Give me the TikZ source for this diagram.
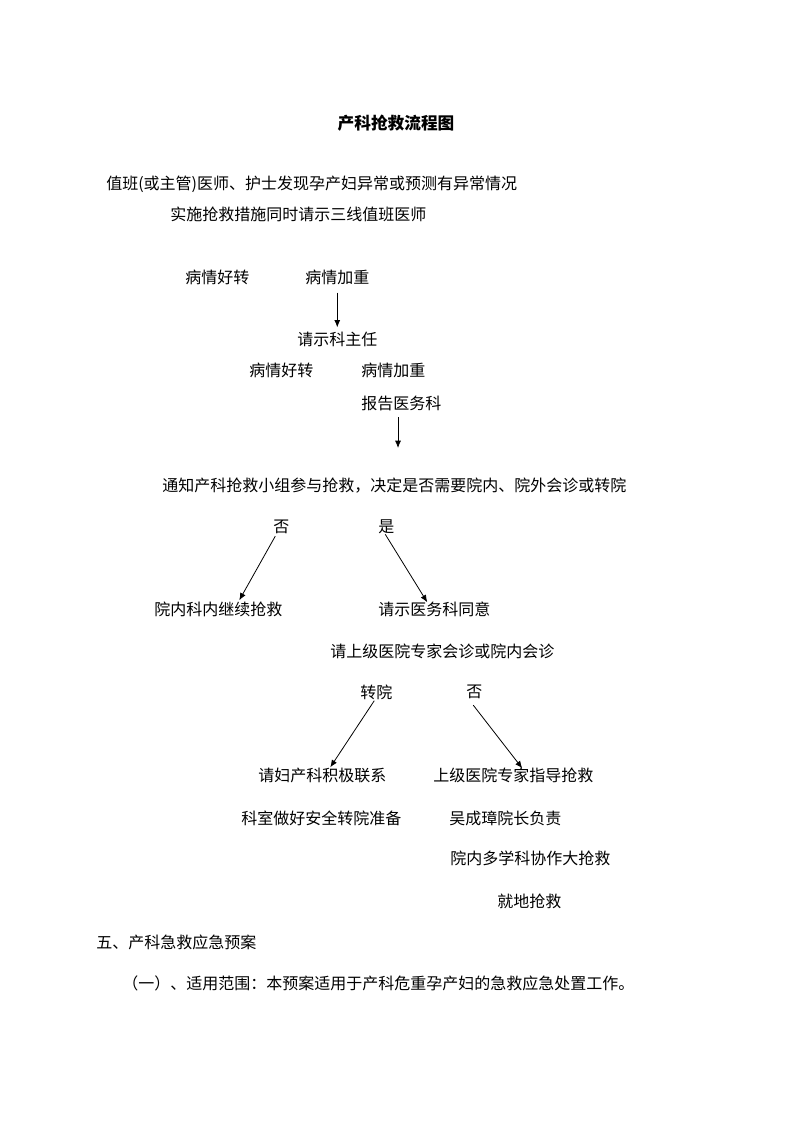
\documentclass[tikz,border=0pt]{standalone}
\usepackage{fontspec}
\setmainfont{Noto Sans CJK SC}
\usepackage{tikz}
\usetikzlibrary{arrows,arrows.meta,positioning,calc}

\begin{document}
\begin{tikzpicture}[x=0.75pt, y=-0.75pt,
  every node/.style={inner sep=0pt, font=\fontsize{12pt}{14pt}\selectfont},
  txt/.style={anchor=west},
  arr/.style={-{Latex[length=5.5pt,width=4.5pt]}, line width=0.6pt}]
\useasboundingbox (0,0) rectangle (794,1123);
%Title
\node[font=\fontsize{12.5pt}{15pt}\selectfont\bfseries] (title) at (396,123) {产科抢救流程图};
%First Group
\node[txt] (find) at (106,184) {值班(或主管)医师、护士发现孕产妇异常或预测有异常情况};
\node[txt] (act) at (170,214) {实施抢救措施同时请示三线值班医师};
\node[txt] (hz1) at (185,277) {病情好转};
\node[txt] (jz1) at (305,277) {病情加重};
\node[txt] (qs) at (297,339) {请示科主任};
\node[txt] (hz2) at (249,370) {病情好转};
\node[txt] (jz2) at (361,370) {病情加重};
\node[txt] (bg) at (361,403) {报告医务科};
\coordinate (c1) at (398,448);
\draw[arr, shorten <=6pt, shorten >=3pt] (jz1.south) -- (qs.north);
\draw[arr, shorten <=5pt] (bg.south -| c1) -- (c1);
%Second Group
\node[txt] (notify) at (162,486) {通知产科抢救小组参与抢救，决定是否需要院内、院外会诊或转院};
\node[txt] (no1) at (273,527) {否};
\node[txt] (yes1) at (378,527) {是};
\node[txt] (stay) at (154,609) {院内科内继续抢救};
\node[txt] (ask) at (378,609) {请示医务科同意};
\draw[arr] ($(no1.south)+(-6,2)$) -- ($(stay.north)+(21,-1)$);
\draw[arr] ($(yes1.south)+(-1,0)$) -- ($(ask.north)+(-7,1)$);
%Third Group
\node[txt] (hz) at (330,651) {请上级医院专家会诊或院内会诊};
\node[txt] (zy) at (360,692) {转院};
\node[txt] (no2) at (466,692) {否};
\node[txt] (lx) at (258,775) {请妇产科积极联系};
\node[txt] (zd) at (433,775) {上级医院专家指导抢救};
\node[txt] (zb) at (241,818) {科室做好安全转院准备};
\node[txt] (fz) at (449,818) {吴成璋院长负责};
\node[txt] (xz) at (450,858) {院内多学科协作大抢救};
\node[txt] (jd) at (497,901) {就地抢救};
\draw[arr] ($(zy.south)+(-2,1)$) -- ($(lx.north)+(8,0)$);
\draw[arr] ($(no2.south)+(-1,6)$) -- ($(zd.north)+(9,1)$);
%Text below
\node[txt] (sec5) at (96,942) {五、产科急救应急预案};
\node[txt] (scope) at (122,983) {（一）、适用范围：本预案适用于产科危重孕产妇的急救应急处置工作。};
\end{tikzpicture}
\end{document}
